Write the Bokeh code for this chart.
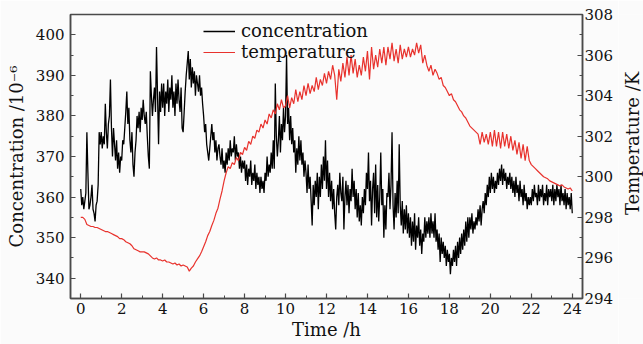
import math
from bokeh.plotting import figure
from bokeh.layouts import row
from bokeh.models import Range1d, LinearAxis, SingleIntervalTicker, Legend, LegendItem, Label
from bokeh.embed import file_html
from bokeh.resources import INLINE

# concentration (10^-6), sampled every 0.05 h, one row per hour
conc_step_h = 0.05
concentration = [
    362, 358, 360, 357, 359, 361, 376, 366, 357, 358, 360, 363, 357, 356, 354, 358, 359, 363, 376, 373,
    376, 372, 375, 373, 383, 376, 372, 378, 380, 389, 377, 370, 377, 373, 369, 374, 367, 371, 366, 370,
    369, 374, 373, 377, 381, 386, 378, 382, 374, 371, 376, 368, 365, 371, 374, 380, 377, 381, 376, 382,
    379, 384, 380, 378, 381, 375, 370, 367, 391, 385, 380, 384, 387, 381, 397, 385, 373, 386, 381, 388,
    382, 388, 380, 386, 383, 389, 381, 387, 384, 390, 382, 386, 380, 388, 383, 389, 384, 381, 387, 377,
    376, 381, 386, 390, 393, 396, 389, 394, 387, 392, 388, 391, 385, 390, 388, 386, 390, 385, 387, 383,
    380, 376, 378, 373, 371, 369, 372, 375, 378, 374, 376, 371, 374, 369, 372, 373, 370, 368, 372, 367,
    369, 366, 371, 368, 372, 369, 374, 370, 372, 371, 375, 369, 373, 370, 371, 367, 370, 366, 369, 367,
    369, 364, 368, 363, 367, 365, 369, 363, 366, 364, 368, 362, 366, 363, 365, 361, 365, 362, 364, 361,
    366, 364, 370, 365, 368, 366, 371, 367, 374, 367, 388, 375, 370, 374, 380, 371, 378, 374, 382, 376,
    380, 395, 378, 382, 374, 380, 373, 377, 371, 374, 366, 372, 368, 375, 369, 374, 368, 371, 365, 369,
    366, 361, 368, 362, 365, 359, 353, 363, 358, 364, 360, 366, 357, 365, 360, 368, 362, 370, 364, 374,
    362, 369, 360, 366, 359, 364, 357, 362, 356, 352, 360, 363, 358, 366, 361, 359, 365, 352, 360, 364,
    358, 363, 356, 362, 359, 367, 360, 364, 357, 362, 355, 361, 354, 358, 353, 360, 356, 362, 358, 366,
    362, 371, 359, 364, 353, 362, 366, 356, 368, 355, 363, 354, 360, 371, 358, 362, 350, 358, 352, 361,
    360, 366, 357, 363, 376, 358, 352, 361, 355, 364, 356, 373, 358, 353, 359, 351, 357, 352, 358, 351,
    356, 350, 355, 348, 354, 349, 356, 347, 353, 350, 355, 348, 352, 346, 351, 349, 355, 350, 354, 351,
    355, 350, 356, 351, 354, 350, 356, 349, 352, 347, 351, 344, 350, 346, 349, 345, 348, 343, 347, 344,
    346, 341, 345, 343, 347, 344, 348, 343, 349, 345, 350, 346, 351, 347, 352, 348, 354, 349, 355, 350,
    355, 352, 356, 351, 354, 352, 355, 353, 357, 354, 358, 353, 357, 359, 356, 361, 358, 363, 360, 365,
    361, 366, 362, 365, 361, 364, 362, 366, 363, 367, 364, 368, 363, 367, 364, 366, 362, 365, 363, 366,
    362, 365, 361, 364, 360, 365, 361, 363, 359, 364, 360, 362, 358, 363, 359, 361, 357, 360, 358, 360,
    358, 362, 359, 363, 360, 361, 358, 363, 359, 362, 360, 363, 358, 361, 359, 363, 358, 362, 360, 362,
    359, 363, 358, 362, 359, 363, 360, 362, 358, 363, 359, 361, 358, 362, 357, 361, 358, 360, 357, 361,
    356,
]

# temperature (K), sampled every 0.1 h, one row per hour
temp_step_h = 0.1
temperature = [
    298.0, 298.0, 297.9, 297.65, 297.6, 297.55, 297.55, 297.5, 297.5, 297.45,
    297.4, 297.35, 297.3, 297.3, 297.25, 297.2, 297.15, 297.1, 297.05, 296.95,
    296.95, 296.9, 296.8, 296.75, 296.7, 296.6, 296.45, 296.4, 296.35, 296.3,
    296.3, 296.3, 296.25, 296.2, 296.1, 296.0, 295.95, 296.0, 295.9, 295.9,
    295.85, 295.9, 295.8, 295.8, 295.75, 295.7, 295.75, 295.65, 295.7, 295.6,
    295.65, 295.6, 295.55, 295.35, 295.5, 295.6, 295.8, 295.95, 296.1, 296.3,
    296.55, 296.8, 297.1, 297.3, 297.6, 297.85, 298.2, 298.45, 298.9, 299.3,
    299.8, 300.2, 300.5, 300.4, 300.7, 300.6, 300.95, 300.8, 301.2, 301.1,
    301.45, 301.3, 301.75, 301.6, 302.0, 301.9, 302.3, 302.2, 302.6, 302.4,
    302.8, 302.6, 303.1, 302.9, 303.3, 303.1, 303.6, 303.3, 303.8, 303.4,
    303.5, 304.0, 303.4, 303.9, 303.6, 304.3, 303.7, 304.2, 303.8, 304.5,
    304.0, 304.6, 304.1, 304.5, 304.2, 304.9, 304.3, 304.8, 304.5, 305.1,
    304.6, 305.2, 304.8, 305.5, 305.0, 303.8, 305.3, 304.7, 305.6, 304.9,
    305.9, 305.0, 306.0, 305.1, 305.8, 304.9, 305.5, 305.0, 305.9, 305.2,
    306.2, 304.8, 306.4, 305.3, 306.0, 305.4, 306.3, 305.6, 306.4, 305.5,
    306.4, 305.8, 306.6, 305.7, 306.3, 305.6, 306.5, 305.8, 306.3, 305.9,
    306.4, 305.9, 306.3, 306.0, 306.6, 306.1, 306.5, 305.6, 306.0, 305.5,
    305.2, 305.5, 305.0, 305.3, 305.1, 304.8, 304.9, 304.5, 304.4, 304.2,
    304.0, 304.1, 303.8, 303.7, 303.5, 303.3, 303.2, 303.0, 302.9, 302.7,
    302.5, 302.4, 302.3, 302.2, 302.1, 301.6, 302.2, 301.7, 302.1, 301.6,
    302.2, 301.5, 302.3, 301.5, 302.2, 301.4, 302.2, 301.5, 302.1, 301.4,
    302.0, 301.3, 301.8, 301.1, 301.7, 300.9, 301.6, 300.8, 301.5, 300.8,
    300.6, 300.5, 300.4, 300.3, 300.2, 300.1, 300.0, 299.95, 299.9, 299.8,
    299.75, 299.7, 299.65, 299.6, 299.55, 299.6, 299.5, 299.45, 299.4, 299.45,
    299.3,
]

series_names = ["concentration", "temperature"]
x_label = "Time /h"
y_label = "Concentration /10\u207b\u2076"
y2_label = "Temperature /K"

t_conc = [i * conc_step_h for i in range(len(concentration))]
t_temp = [i * temp_step_h for i in range(len(temperature))]

BG = "#fbfbfb"
AX = "#4a4a4a"
FONT = "DejaVu Serif"

p = figure(width=618, height=344, output_backend="svg", toolbar_location=None,
           x_range=Range1d(-0.5, 24.5), y_range=Range1d(335, 405),
           min_border_left=70, min_border_right=36, min_border_top=14, min_border_bottom=46,
           background_fill_color=BG, border_fill_color=BG)
p.xgrid.visible = False
p.ygrid.visible = False
p.outline_line_color = AX
p.outline_line_width = 1.5

p.extra_y_ranges = {"temp": Range1d(294, 308)}
right = LinearAxis(y_range_name="temp",
                   ticker=SingleIntervalTicker(interval=2, num_minor_ticks=2))
p.add_layout(right, "right")

p.xaxis.ticker = SingleIntervalTicker(interval=2, num_minor_ticks=2)
p.yaxis[0].ticker = SingleIntervalTicker(interval=10, num_minor_ticks=2)
p.xaxis.axis_label = x_label
p.yaxis[0].axis_label = y_label

for ax in p.xaxis + p.yaxis:
    ax.major_tick_in = 5
    ax.major_tick_out = 0
    ax.minor_tick_in = 3
    ax.minor_tick_out = 0
    ax.axis_line_color = AX
    ax.axis_line_width = 1.5
    ax.major_tick_line_color = AX
    ax.minor_tick_line_color = AX
    ax.major_tick_line_width = 1.2
    ax.major_label_text_font = FONT
    ax.major_label_text_font_size = "15px"
    ax.major_label_text_color = "#111111"
    ax.axis_label_text_font = FONT
    ax.axis_label_text_font_size = "18px"
    ax.axis_label_text_font_style = "normal"
    ax.axis_label_text_color = "#111111"

p.yaxis[0].major_label_standoff = 6
p.yaxis[0].axis_label_standoff = 6
right.major_label_standoff = 2
p.xaxis.major_label_standoff = 4
p.xaxis.axis_label_standoff = 2

r1 = p.line(t_conc, concentration, line_color="black", line_width=1.3)
r2 = p.line(t_temp, temperature, y_range_name="temp", line_color="#e8322d", line_width=1.2)

legend = Legend(items=[LegendItem(label=series_names[0], renderers=[r1]),
                       LegendItem(label=series_names[1], renderers=[r2])],
                location=(133, 236), border_line_color=None, background_fill_alpha=0,
                label_text_font=FONT, label_text_font_size="18px", label_text_color="#111111",
                glyph_width=32, glyph_height=20, label_height=20, spacing=0, padding=0,
                margin=0, label_standoff=6)
p.add_layout(legend)

# narrow strip on the right that carries the right-hand axis title (reads bottom to top)
side = figure(width=25, height=344, output_backend="svg", toolbar_location=None,
              x_range=Range1d(0, 1), y_range=Range1d(0, 1), min_border=0,
              background_fill_color=BG, border_fill_color=BG)
side.axis.visible = False
side.grid.visible = False
side.outline_line_color = None
side.add_layout(Label(x=0.56, y=0.546, text=y2_label, angle=math.pi / 2,
                      text_align="center", text_baseline="middle",
                      text_font=FONT, text_font_size="18px", text_color="#111111"))

layout = row(p, side, spacing=0)
open("out.html", "w").write(file_html(layout, INLINE))
